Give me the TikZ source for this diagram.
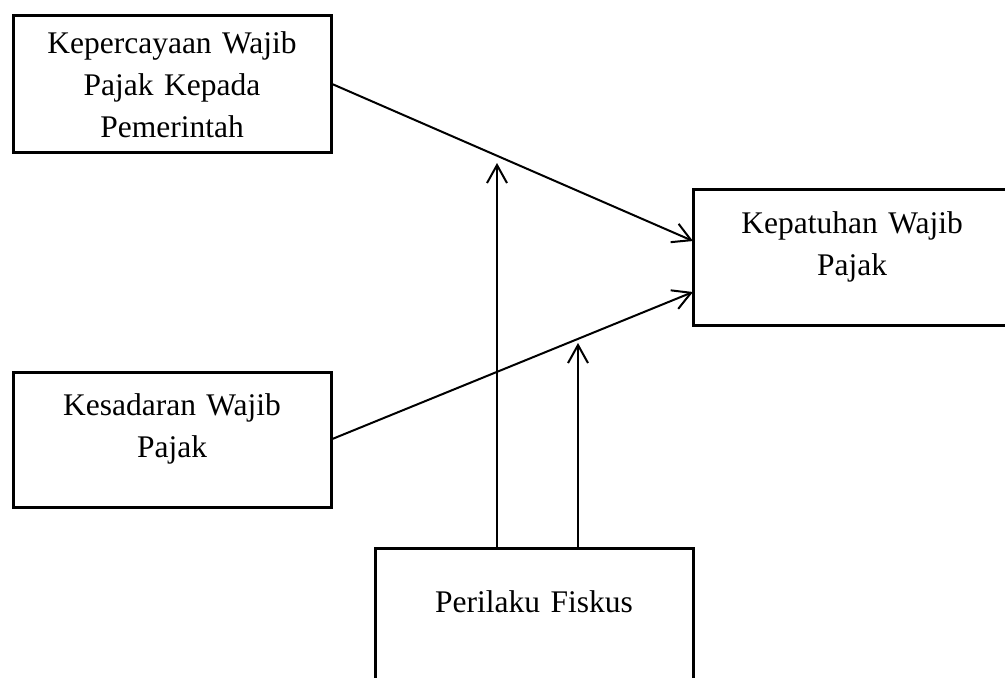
\documentclass[tikz,border=0pt]{standalone}
\usepackage{fontspec}
\setmainfont{Liberation Serif}
\usetikzlibrary{positioning}
\usetikzlibrary{arrows.meta}
\usetikzlibrary{calc}
\tikzset{var node/.style={rectangle,draw,line width=1.5pt,text width=159pt,align=center,inner sep=0pt,outer sep=0pt,font={\fontsize{15.75pt}{21pt}\selectfont}},}

\begin{document}
\begin{tikzpicture}[->, >={Straight Barb[length=9pt,width=10pt]}, x=0.5pt, y=-0.5pt, line width=1pt]
	\clip (0,0) rectangle (1005,677);
	\node[var node, anchor=north west, text height=19pt, text depth=49.5pt] (kpc) at (13,15) {Kepercayaan Wajib\\ Pajak Kepada\\ Pemerintah};
	\node[var node, text height=21.5pt, text depth=46pt] (ksd) [below = 110pt of kpc] {Kesadaran Wajib\\ Pajak};
	\node[var node, text height=22pt, text depth=46pt] (kpt) [below right = 18.5pt and 181pt of kpc] {Kepatuhan Wajib\\ Pajak};
	\node[var node, text height=32pt, text depth=36.5pt] (pfk) [below right = 20.5pt and 22pt of ksd] {Perilaku Fiskus};

	\coordinate (m1) at (497,163);
	\coordinate (m2) at (578,343);

	\path
	(kpc.east) edge ([yshift=8pt]kpt.west)
	(ksd.east) edge ([yshift=-17.5pt]kpt.west)
	(m1 |- pfk.north) edge (m1)
	(m2 |- pfk.north) edge (m2);
\end{tikzpicture}
\end{document}
